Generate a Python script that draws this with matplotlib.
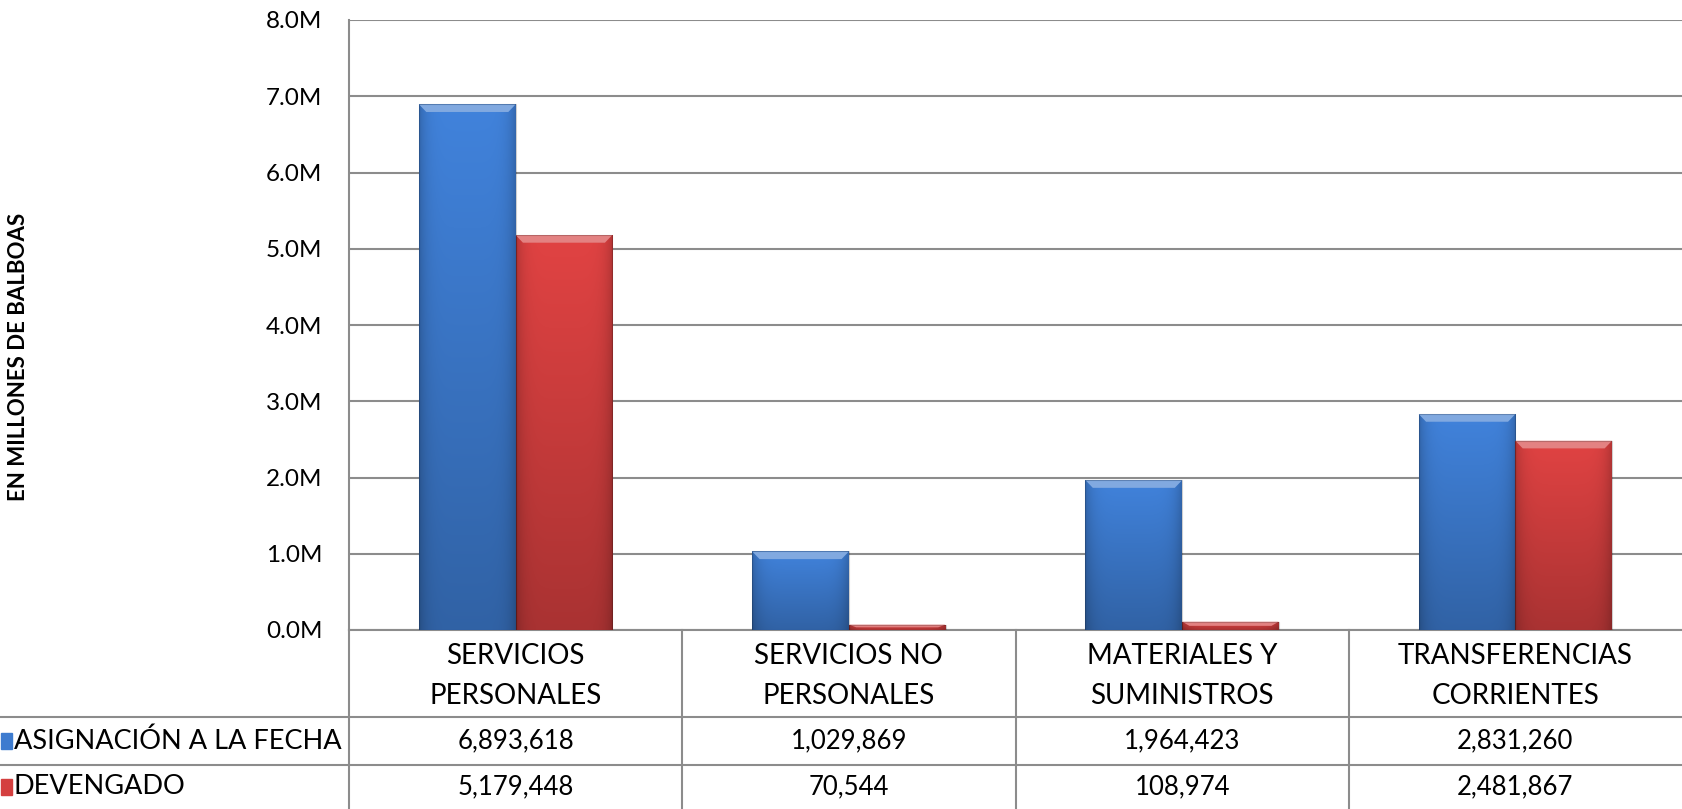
import matplotlib.pyplot as plt
import matplotlib.transforms as mtransforms
from matplotlib.lines import Line2D
from matplotlib.patches import Rectangle, Polygon
import numpy as np

plt.rcParams['font.family'] = ['Lato', 'DejaVu Sans']

categories = ['SERVICIOS\nPERSONALES', 'SERVICIOS NO\nPERSONALES',
              'MATERIALES Y\nSUMINISTROS', 'TRANSFERENCIAS\nCORRIENTES']
series_names = ['ASIGNACIÓN A LA FECHA', 'DEVENGADO']
asignacion = [6893618, 1029869, 1964423, 2831260]
devengado = [5179448, 70544, 108974, 2481867]
yticks = [0, 1e6, 2e6, 3e6, 4e6, 5e6, 6e6, 7e6, 8e6]

colors = ['#3D7BCF', '#D43F3F']
grid_c = '#8C8C8C'

fig = plt.figure(figsize=(16.82, 8.09), dpi=100)
ax = fig.add_axes([349 / 1682, 1 - 630 / 809, 1 - 349 / 1682, 610 / 809])


def shaded(color, n=60):
    base = np.array(plt.matplotlib.colors.to_rgb(color))
    v = np.linspace(1.06, 0.80, n)[:, None]
    u = np.linspace(0, 1, 40)
    h = 1 - 0.18 * (np.abs(u - 0.5) * 2) ** 6
    img = base[None, None, :] * v[:, :, None] * h[None, :, None]
    return np.clip(img, 0, 1)


def lighter(color, f=0.35):
    base = np.array(plt.matplotlib.colors.to_rgb(color))
    return tuple(base + (1 - base) * f)


x = np.arange(len(categories))
w = 0.29
bev = 0.1e6   # bevel height, about 8 px
bev_x = 0.022
for vals, off, c in [(asignacion, -w / 2, colors[0]), (devengado, w / 2, colors[1])]:
    bars = ax.bar(x + off, vals, w, color=c, edgecolor='none', zorder=2)
    for b in bars:
        x0, y0 = b.get_x(), b.get_y()
        x1, y1 = x0 + b.get_width(), y0 + b.get_height()
        im = ax.imshow(shaded(c), extent=[x0, x1, y0, y1],
                       aspect='auto', zorder=3, interpolation='bilinear')
        im.set_clip_path(b)
        hb = min(bev, b.get_height() * 0.5)
        ax.add_patch(Polygon([(x0, y1), (x1, y1), (x1 - bev_x, y1 - hb), (x0 + bev_x, y1 - hb)],
                             closed=True, color=lighter(c), lw=0, zorder=4))
        ax.add_patch(Rectangle((x0, y0), b.get_width(), b.get_height(), fill=False,
                               edgecolor='#00000030', lw=0.8, zorder=5))

ax.set_xlim(-0.5, len(categories) - 0.5)
ax.set_ylim(0, 8e6)
ax.set_yticks(yticks)
ax.set_yticklabels([f'{t / 1e6:.1f}M' for t in yticks], fontsize=17.5)
ax.tick_params(axis='y', length=0, pad=19)
ax.set_xticks([])
ax.yaxis.grid(True, color=grid_c, lw=1.5, zorder=0)
ax.set_axisbelow(True)
for s in ['top', 'right']:
    ax.spines[s].set_visible(False)
ax.spines['left'].set_color(grid_c)
ax.spines['left'].set_linewidth(1.5)
ax.spines['bottom'].set_color(grid_c)
ax.spines['bottom'].set_linewidth(1.5)

fig.text(19 / 1682, 1 - 357 / 809, 'EN MILLONES DE BALBOAS', rotation=90,
         fontsize=16, fontweight='bold', ha='center', va='center')

# data table under the chart
tr = mtransforms.blended_transform_factory(ax.transData, fig.transFigure)
y_top = 1 - 630 / 809
y_r1 = 1 - 717 / 809
y_r2 = 1 - 765 / 809
for k in range(len(categories)):
    xb = k - 0.5
    fig.add_artist(Line2D([xb, xb], [0, y_top], transform=tr, color=grid_c, lw=1.5))
for yy in [y_r1, y_r2]:
    fig.add_artist(Line2D([0, 1], [yy, yy], transform=fig.transFigure, color=grid_c, lw=1.5))

for k, cat in enumerate(categories):
    fig.text(k, 1 - 676 / 809, cat, transform=tr, ha='center', va='center',
             fontsize=20, linespacing=1.65)
    fig.text(k, 1 - 741 / 809, f'{asignacion[k]:,}', transform=tr, ha='center',
             va='center', fontsize=18.5)
    fig.text(k, 1 - 787 / 809, f'{devengado[k]:,}', transform=tr, ha='center',
             va='center', fontsize=18.5)

for name, c, yc in [(series_names[0], colors[0], 741), (series_names[1], colors[1], 787)]:
    fig.add_artist(Rectangle((1 / 1682, 1 - (yc + 8) / 809), 11 / 1682, 16 / 809,
                             transform=fig.transFigure, color=c))
    fig.text(14 / 1682, 1 - yc / 809, name, ha='left', va='center', fontsize=19.5)

fig.savefig('out.png', dpi=100)
